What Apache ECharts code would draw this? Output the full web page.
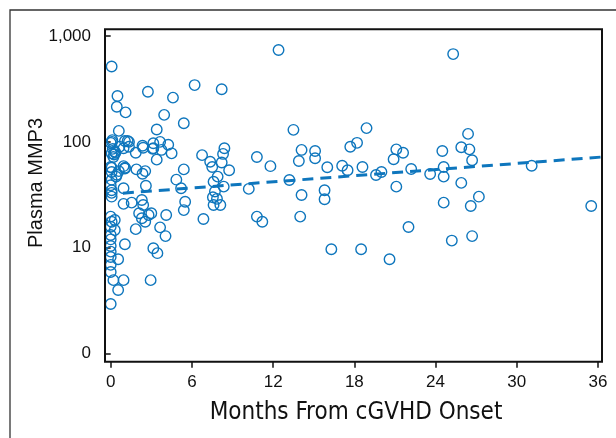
<!DOCTYPE html>
<html>
<head>
<meta charset="utf-8">
<script src="https://cdn.jsdelivr.net/npm/echarts@6/dist/echarts.min.js"></script>
<style>
html,body{margin:0;padding:0;background:#fff;}
#chart{width:616px;height:438px;}
</style>
</head>
<body>
<div id="chart"></div>
<script>
// Months from cGVHD onset (x) and plasma MMP3 (y)
const months = [
 12.4,25.3,0.07,6.2,8.2,2.75,0.5,4.6,0.45,1.1,3.95,5.4,3.4,0.6,13.5,18.9,26.4,18.2,17.7,25.9,
 26.5,21.1,21.6,24.5,15.1,14.1,10.8,20.9,26.7,15.1,13.9,11.8,16.0,17.1,17.5,18.6,22.2,24.6,31.1,20.0,
 19.6,23.6,24.6,13.2,25.9,21.1,10.2,15.8,14.1,15.8,27.2,24.6,26.6,35.5,10.8,11.2,14.0,22.0,26.7,25.2,
 16.3,18.5,20.6,
 6.75,7.35,7.5,8.2,8.4,8.3,8.75,7.9,7.6,8.35,7.7,7.55,7.6,8.1,6.85,5.4,4.85,5.2,5.5,5.4,7.85,
 0.0,0.65,1.05,1.35,1.35,0.07,0.3,0.2,0.95,1.85,2.35,3.15,3.65,4.25,3.15,3.75,4.5,3.4,0.0,0.07,
 0.95,1.05,0.45,1.9,2.35,2.55,0.07,0.0,0.95,0.07,2.6,0.07,0.07,0.95,1.55,2.3,2.4,2.1,2.8,2.55,
 2.3,3.0,4.1,1.85,3.65,4.05,1.05,3.15,3.45,0.0,0.07,0.3,0.0,0.3,0.0,0.0,0.55,0.0,0.0,0.0,
 0.0,0.2,0.95,2.95,0.55,0.0,0.0,0.1,0.15,0.25,0.35,0.6,0.4,0.12,1.25,2.4,3.1,0.07,1.06
];
const mmp3 = [
 738,675,515,344,314,298,271,262,215,190,180,150,131,127,130,135,119,98,90,89,
 85,85,79,82,82,84,72,68.5,67,70,66,59,57.6,59.6,54,58,55.5,58,59.6,52,
 48.7,49.8,47,43.7,41,37.8,36,35,31.5,28.7,30.4,26.7,24.8,24.8,19.7,17.6,19.7,15.7,12.9,11.7,
 9.7,9.7,7.8,
 75,65,58,64,87,77,54,47,42,37.8,34,30,25.4,25.4,18.7,55,44,36.5,27.2,22.7,29,
 98,90,102,100,90,78,81,72,87,79,92,97,100,94,87,84,78,68,58,52,
 59,56,49,55,50,53,44,39,36.5,35,38.6,33,30.4,26,26.7,28.3,25.4,21.2,20.4,17.6,
 19,21.2,20.4,15,15.6,12.9,10.8,9.9,8.9,19.7,17.6,18.3,15.8,14.7,13.2,12.0,7.8,9.2,8.2,6.9,
 5.9,4.95,4.95,4.95,4.0,2.95,10.4,100,86,76,79,53,47,104,102,88,86,57,57
];
// Fitted trend (dashed line) end points
const fitMonths = [0.9, 36.3];
const fitValues = [32.8, 72];
// Axis ticks
const xTicks = [0, 6, 12, 18, 24, 30, 36];
const yTickLabels = {1: '0', 10: '10', 100: '100', 1000: '1,000'};

const blue = '#0e76bd';
const points = months.map((m, i) => [m, mmp3[i]]);
const fitLine = fitMonths.map((m, i) => [m, fitValues[i]]);

const chart = echarts.init(document.getElementById('chart'), null, {renderer: 'canvas'});
chart.setOption({
  backgroundColor: '#fff',
  animation: false,
  grid: {left: 110.7, right: 18, top: 36, bottom: 84.3, containLabel: false},
  xAxis: {
    type: 'value', min: xTicks[0], max: xTicks[xTicks.length - 1], interval: 6,
    offset: 8,
    axisLine: {show: false},
    axisTick: {show: true, length: 6, lineStyle: {color: '#111', width: 1.5}},
    axisLabel: {margin: 12, color: '#111', fontSize: 17, fontFamily: 'Liberation Sans, Arial, sans-serif'},
    splitLine: {show: false}
  },
  yAxis: {
    type: 'log', logBase: 10, min: 1, max: 1000,
    offset: 5.7,
    axisLine: {show: false},
    axisTick: {show: true, length: 6, lineStyle: {color: '#111', width: 1.5}},
    axisLabel: {margin: 14, color: '#111', fontSize: 17, fontFamily: 'Liberation Sans, Arial, sans-serif',
      formatter: v => yTickLabels[Math.round(v)] !== undefined ? yTickLabels[Math.round(v)] : ''},
    splitLine: {show: false}
  },
  graphic: [
    {type: 'rect', shape: {x: 10, y: 10, width: 640, height: 460}, style: {fill: 'none', stroke: '#333', lineWidth: 1.3}, silent: true},
    {type: 'rect', shape: {x: 105, y: 29.3, width: 497, height: 332.4}, style: {fill: 'none', stroke: '#111', lineWidth: 2}, silent: true, z: 10},
    {type: 'text', x: 356, y: 413, style: {text: 'Months From cGVHD Onset', fill: '#111', font: '24px "Liberation Sans Narrow", "DejaVu Sans Condensed", sans-serif', textAlign: 'center', textVerticalAlign: 'middle'}},
    {type: 'text', x: 36, y: 183, rotation: Math.PI / 2, style: {text: 'Plasma MMP3', fill: '#111', font: '20px "Liberation Sans", Arial, sans-serif', textAlign: 'center', textVerticalAlign: 'middle'}}
  ],
  series: [
    {
      type: 'scatter', data: points, clip: false,
      symbol: 'circle', symbolSize: 10.5,
      itemStyle: {color: 'rgba(255,255,255,0)', borderColor: blue, borderWidth: 1.4, opacity: 1}
    },
    {
      type: 'line', data: fitLine, clip: false, symbol: 'none',
      lineStyle: {color: blue, width: 3, type: [11, 7]}
    }
  ]
});
</script>
</body>
</html>
